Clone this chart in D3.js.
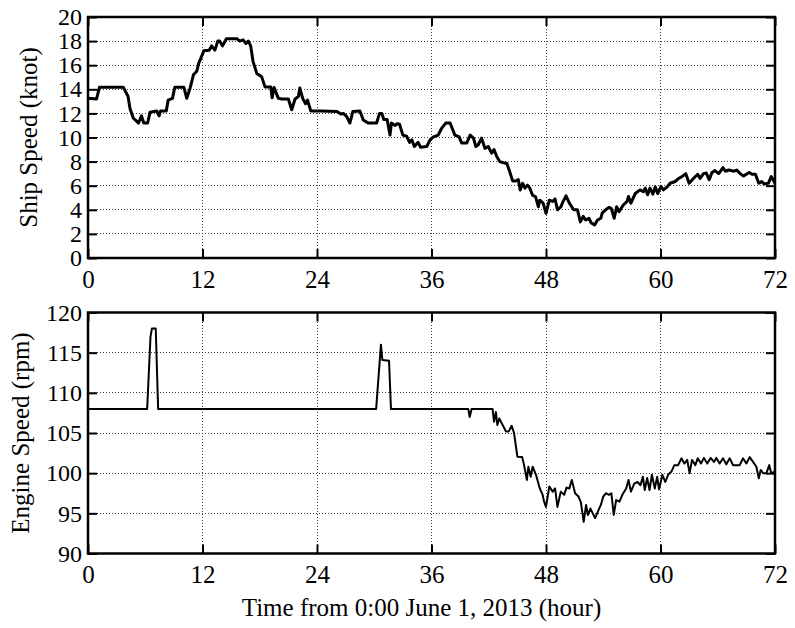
<!DOCTYPE html>
<html><head><meta charset="utf-8">
<script src="https://cdn.jsdelivr.net/npm/d3@7"></script>
<style>
body{margin:0;background:#fff;}
svg text{font-family:"Liberation Serif","Times New Roman",serif;}
</style></head>
<body><svg id="chart" width="795" height="628"></svg>
<script>
// ---- data ----
const shipT = [0,0.9,1.2,3.7,4.2,4.4,4.75,5.3,5.6,5.85,6.25,6.5,7.2,7.45,7.6,8.2,8.4,8.85,9.1,10.05,10.35,10.7,11.05,11.4,11.6,12.15,12.7,12.95,13.3,13.6,13.8,14.1,14.5,15.6,15.9,16.25,16.55,16.8,17.05,17.3,17.7,18.2,18.55,19.15,19.3,19.5,19.95,20.3,21.0,21.35,21.7,22.05,22.2,22.5,22.8,23.0,23.35,24.5,26.1,26.5,26.75,27.1,27.45,27.75,28.5,28.85,29.35,30.25,30.55,30.8,31.0,31.35,31.65,31.8,32.2,32.4,32.65,33.0,33.4,33.7,33.95,34.2,34.6,34.85,35.5,35.85,36.2,36.7,37.05,37.2,37.5,37.95,38.45,38.9,39.15,39.7,40.05,40.4,40.65,40.9,41.25,41.6,41.95,42.3,42.55,42.85,43.15,43.55,43.9,44.2,44.5,44.85,45.1,45.3,45.55,45.8,46.05,46.3,46.6,46.9,47.2,47.35,47.7,48.0,48.35,48.7,48.95,49.2,49.55,49.8,50.1,50.45,50.9,51.3,51.6,51.9,52.15,52.5,52.75,53.1,53.4,53.75,53.9,54.25,54.6,54.85,55.15,55.4,55.65,56.1,56.5,56.65,56.9,57.35,57.85,58.2,58.4,58.65,58.9,59.2,59.45,59.7,60.05,60.3,60.7,61.0,61.55,61.9,62.25,62.65,63.0,63.45,63.9,64.15,64.5,64.8,65.1,65.4,65.7,66.1,66.55,66.8,67.15,67.7,68.0,68.35,68.7,69.0,69.3,69.6,69.95,70.3,70.6,70.85,71.3,71.6,71.8,72];
const shipV = [13.25,13.2,14.17,14.17,13.4,12.4,11.6,11.2,11.8,11.2,11.2,12.1,12.2,11.8,12.2,12.2,13.1,13.25,14.17,14.17,13.25,14.1,15.2,15.5,16.15,17.2,17.25,17.6,17.25,18.0,18.0,17.6,18.2,18.2,18.0,18.1,17.8,18.0,17.6,16.3,15.3,15.05,14.2,14.2,13.3,14.15,13.25,13.2,13.2,12.3,13.2,13.4,14.1,13.25,12.8,13.1,12.2,12.2,12.15,11.95,12.0,11.75,11.2,12.15,12.2,11.45,11.2,11.2,12.0,12.0,11.5,11.5,10.2,11.2,11.0,11.15,11.1,10.2,10.1,9.6,9.8,9.25,9.6,9.2,9.25,9.8,10.05,10.2,10.75,10.9,11.2,11.2,10.2,10.05,9.55,9.55,10.2,9.95,9.25,9.4,9.95,9.1,9.25,8.7,9.0,8.4,8.0,7.9,7.85,7.15,6.4,6.4,6.5,5.65,6.2,5.8,6.05,5.8,5.2,5.1,4.25,4.8,4.55,3.7,4.8,4.7,4.9,4.0,4.25,4.7,5.15,4.55,4.0,4.0,3.0,3.45,3.15,3.3,2.9,2.75,3.15,3.3,3.75,4.0,4.2,4.1,3.3,4.25,3.85,4.4,4.7,5.1,4.55,5.35,5.65,5.5,5.8,5.25,5.8,5.3,5.9,5.35,5.95,5.65,5.9,6.2,6.35,6.6,6.75,7.0,6.2,6.6,6.95,6.6,7.0,7.05,6.5,7.1,7.25,7.0,7.5,7.2,7.3,7.2,7.3,7.0,6.8,6.95,7.1,6.95,6.95,6.2,6.35,6.15,6.2,6.75,6.5,6.2];

const engT = [0,6.2,6.55,6.7,7.1,7.35,30.2,30.7,30.85,31.55,31.75,39.85,40.0,40.2,42.4,42.55,42.75,42.9,43.1,43.8,44.1,44.4,44.65,45.0,45.5,45.7,46.0,46.15,46.4,46.6,46.95,47.35,47.65,47.8,48.0,48.35,48.7,48.95,49.2,49.55,49.9,50.15,50.45,50.7,51.05,51.4,51.65,51.95,52.2,52.4,52.65,52.9,53.15,53.5,53.75,54.0,54.3,54.6,54.85,55.1,55.35,55.7,56.0,56.4,56.65,56.9,57.25,57.6,57.9,58.15,58.35,58.6,58.85,59.1,59.4,59.65,59.85,60.2,60.5,60.8,61.15,61.45,61.85,62.2,62.5,62.8,63.05,63.3,63.65,63.9,64.25,64.55,64.9,65.25,65.6,65.85,66.2,66.55,66.9,67.25,67.6,68.3,68.65,69.0,69.35,69.7,70.05,70.3,70.5,70.75,71.1,71.4,71.6,72];
const engV = [108,108,117,118,118,108,108,116,114.1,114,108,108,107,108,108,106.4,107.6,106.0,106.8,105.2,105.2,105.9,105,102.05,102,101,99.15,100.8,99.55,100.8,99.8,98.1,97.3,96.45,95.8,98.35,97.7,98.1,95.8,97.7,97.3,98.2,98.1,99.15,97.5,97.1,96.4,93.95,96.05,94.8,95.6,95.0,94.4,95.4,96.05,97.1,97.5,97.3,97.5,94.8,96.65,96.45,97.3,98.1,99.15,97.7,98.7,98.9,98.5,99.55,97.9,99.4,97.9,99.8,98.1,99.55,98.0,99.8,98.9,99.8,100.2,101.0,101.0,101.85,101.2,101.65,100.0,101.65,101.0,101.85,101.2,101.9,101.2,101.9,101.4,101.9,101.2,101.85,101.1,101.85,101.0,101.0,101.85,101.2,102.0,101.4,100.8,99.35,100.4,100.0,100.0,101.0,100.0,100.2];

const xTicks = [0,12,24,36,48,60,72];
const shipTicks = [0,2,4,6,8,10,12,14,16,18,20];
const engTicks = [90,95,100,105,110,115,120];

// ---- layout ----
const svg = d3.select("#chart");
const L = 88, R = 775, W = R - L;
const fs = "25px", tfs = "24px";
const panels = [
  {top:17, bottom:258, domain:[0,20], ticks:shipTicks, t:shipT, v:shipV, label:"Ship Speed (knot)", lx:37, lw:3},
  {top:312.5, bottom:553.5, domain:[90,120], ticks:engTicks, t:engT, v:engV, label:"Engine Speed (rpm)", lx:29, lw:2}
];

panels.forEach(p => {
  const H = p.bottom - p.top;
  const x = d3.scaleLinear().domain([0,72]).range([0,W]);
  const y = d3.scaleLinear().domain(p.domain).range([H,0]);
  const g = svg.append("g").attr("transform",`translate(${L},${p.top})`);

  // grid
  const grid = g.append("g");
  grid.selectAll("line.gx").data(xTicks.slice(1,-1)).join("line")
    .attr("x1",d=>x(d)).attr("x2",d=>x(d)).attr("y1",0).attr("y2",H);
  grid.selectAll("line.gy").data(p.ticks.slice(1,-1)).join("line").attr("class","gy")
    .attr("x1",0).attr("x2",W).attr("y1",d=>y(d)).attr("y2",d=>y(d));
  grid.selectAll("line").attr("stroke","#444").attr("stroke-width",1).attr("stroke-dasharray","1,2").attr("shape-rendering","crispEdges");

  // data line
  const data = p.t.map((t,i)=>[t,p.v[i]]);
  g.append("path").datum(data)
    .attr("fill","none").attr("stroke","#000").attr("stroke-width",p.lw).attr("stroke-linejoin","round")
    .attr("d", d3.line().x(d=>x(d[0])).y(d=>y(d[1])));

  // axes with inward ticks
  const ax = [
    g.append("g").attr("transform",`translate(0,${H})`).call(d3.axisBottom(x).tickValues(xTicks).tickSize(-9).tickPadding(12)),
    g.append("g").call(d3.axisTop(x).tickValues(xTicks).tickSize(-9).tickFormat("")),
    g.append("g").call(d3.axisLeft(y).tickValues(p.ticks).tickSize(-9).tickPadding(6)),
    g.append("g").attr("transform",`translate(${W},0)`).call(d3.axisRight(y).tickValues(p.ticks).tickSize(-9).tickFormat(""))
  ];
  ax.forEach(a=>{
    a.select(".domain").remove();
    a.selectAll(".tick line").attr("stroke","#000").attr("stroke-width",2);
    a.selectAll("text").attr("font-size",tfs).attr("fill","#000").attr("font-family","Liberation Serif");
  });
  ax[0].selectAll("text").attr("font-size",fs).attr("dy","0.71em").attr("y",12);

  // frame
  g.append("rect").attr("x",0).attr("y",0).attr("width",W).attr("height",H)
    .attr("fill","none").attr("stroke","#000").attr("stroke-width",2.5);

  // y label
  svg.append("text").attr("transform",`translate(${p.lx},${(p.top+p.bottom)/2}) rotate(-90)`)
    .attr("text-anchor","middle").attr("font-size",fs).text(p.label);
});

svg.append("text").attr("x",(L+R)/2 - 10).attr("y",616).attr("text-anchor","middle")
  .attr("font-size",fs).text("Time from 0:00 June 1, 2013 (hour)");
</script></body></html>
